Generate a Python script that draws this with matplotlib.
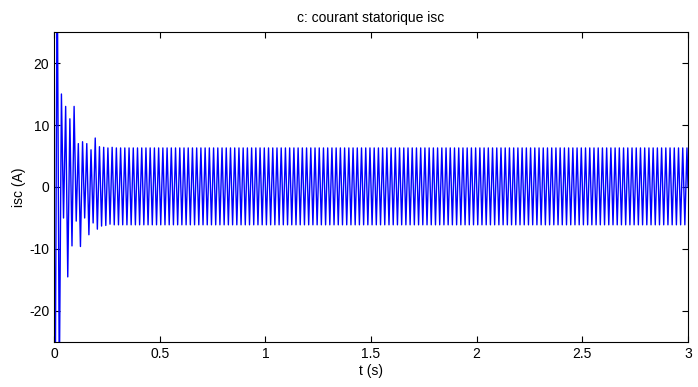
import numpy as np
import matplotlib.pyplot as plt

plt.rcParams['font.family'] = ['Liberation Sans', 'DejaVu Sans']
plt.rcParams['axes.unicode_minus'] = False

# demi-période du courant (50 Hz)
demi_periode = 0.01
t_fin = 3.0

# pics du régime transitoire, un par demi-période
pics_transitoires = [-40, 38, -32, 15, -5, 13, -14.5, 11, -9.5, 13,
                     -5.5, 7, -9.6, 7.3, -5, 7, -7.7, 6, -5.8, 7.9,
                     -6.8, 6.5, -6.3, 6.4, -6.2, 6.3, -6.0, 6.4, -6.1, 6.3]

# pics du régime permanent (crête négative, crête positive)
pics_permanents = [-6.1, 6.3]

n_pics = int(round(t_fin / demi_periode))
n_reste = n_pics - len(pics_transitoires)
pics = pics_transitoires + pics_permanents * (n_reste // 2)

t = np.concatenate([[0.0], demi_periode * (np.arange(len(pics)) + 0.5), [t_fin]])
isc = np.concatenate([[0.0], pics, [0.0]])

fig = plt.figure(figsize=(6.98, 3.87), dpi=100)
ax = fig.add_axes([0.0774, 0.1163, 0.9083, 0.801])

ax.plot(t, isc, color="blue", linewidth=1.0)

ax.set_xlim(0, 3)
ax.set_ylim(-25, 25)
ax.set_xticks([0, 0.5, 1, 1.5, 2, 2.5, 3])
ax.set_xticklabels(["0", "0.5", "1", "1.5", "2", "2.5", "3"])
ax.set_yticks([-20, -10, 0, 10, 20])
ax.tick_params(direction="in", top=True, right=True, length=4, labelsize=10)
for s in ax.spines.values():
    s.set_linewidth(0.8)

ax.set_xlabel("t (s)", fontsize=10, labelpad=2)
ax.set_ylabel("isc (A)", fontsize=10, labelpad=2)
ax.set_title("c: courant statorique isc", fontsize=10, pad=7)

fig.savefig("out.png", dpi=100)
